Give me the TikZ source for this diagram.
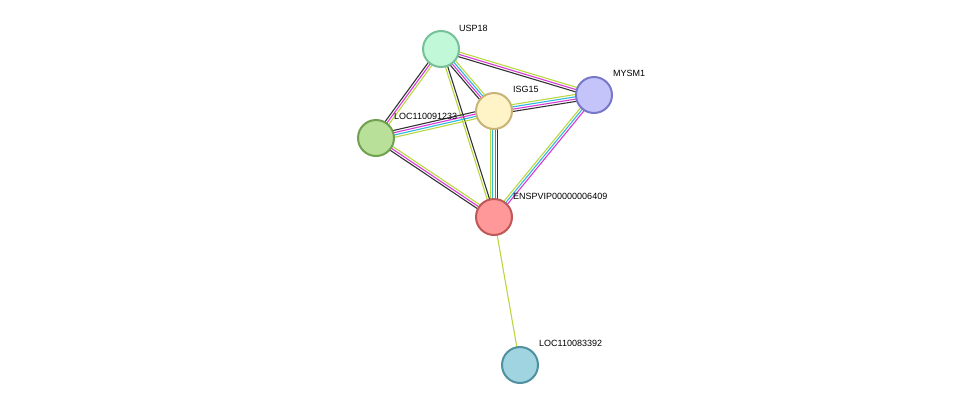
\documentclass[tikz,border=0pt]{standalone}
\usepackage{fontspec}
\setmainfont{Liberation Sans}
\usetikzlibrary{calc}
\definecolor{edk}{HTML}{333333}
\definecolor{edm}{HTML}{D838D8}
\definecolor{edc}{HTML}{30B8E0}
\definecolor{edy}{HTML}{B8D840}
\newcommand\stredge[4]{%
  \foreach \c [count=\i] in {#4}{%
    \pgfmathsetmacro\off{(\i-(#3+1)/2)*2.3}%
    \draw[draw=\c,line width=1.1pt] ($(#1)!\off pt!90:(#2)$) -- ($(#2)!\off pt!-90:(#1)$);
  }}
\tikzset{
  prot/.style={circle,minimum size=36pt,line width=2pt,inner sep=0pt},
  lbl/.style={anchor=west,font=\fontsize{9pt}{10pt}\selectfont,inner sep=0pt}
}
\begin{document}
\begin{tikzpicture}[x=1pt,y=-1pt]
\useasboundingbox (0,0) rectangle (975,410);
\coordinate (U) at (441,49);
\coordinate (M) at (594,95);
\coordinate (I) at (494,111);
\coordinate (L) at (376,138);
\coordinate (E) at (494,217);
\coordinate (L2) at (520,365);
\stredge{U}{M}{3}{edk,edm,edy}
\stredge{U}{I}{4}{edk,edm,edc,edy}
\stredge{U}{L}{3}{edk,edm,edy}
\stredge{U}{E}{2}{edy,edk}
\stredge{I}{M}{4}{edk,edm,edc,edy}
\stredge{I}{L}{4}{edk,edm,edc,edy}
\stredge{I}{E}{4}{edy,edc,edm,edk}
\stredge{M}{E}{3}{edy,edc,edm}
\stredge{L}{E}{3}{edk,edm,edy}
\stredge{E}{L2}{1}{edy}
\node[prot,fill={rgb,255:red,192;green,248;blue,216},draw={rgb,255:red,120;green,192;blue,152}] (nU) at (U) {};
\node[prot,fill={rgb,255:red,196;green,196;blue,250},draw={rgb,255:red,120;green,120;blue,200}] (nM) at (M) {};
\node[prot,fill={rgb,255:red,255;green,244;blue,200},draw={rgb,255:red,200;green,180;blue,120}] (nI) at (I) {};
\node[prot,fill={rgb,255:red,184;green,224;blue,152},draw={rgb,255:red,112;green,160;blue,80}] (nL) at (L) {};
\node[prot,fill={rgb,255:red,255;green,152;blue,152},draw={rgb,255:red,192;green,88;blue,88}] (nE) at (E) {};
\node[prot,fill={rgb,255:red,160;green,212;blue,224},draw={rgb,255:red,80;green,144;blue,160}] (nL2) at (L2) {};
\node[lbl] (tU) at (459,28) {USP18};
\node[lbl] (tM) at (613,73) {MYSM1};
\node[lbl] (tI) at (513,89) {ISG15};
\node[lbl] (tL) at (394,116) {LOC110091233};
\node[lbl] (tE) at (513,196) {ENSPVIP00000006409};
\node[lbl] (tL2) at (539,343) {LOC110083392};
\end{tikzpicture}
\end{document}
